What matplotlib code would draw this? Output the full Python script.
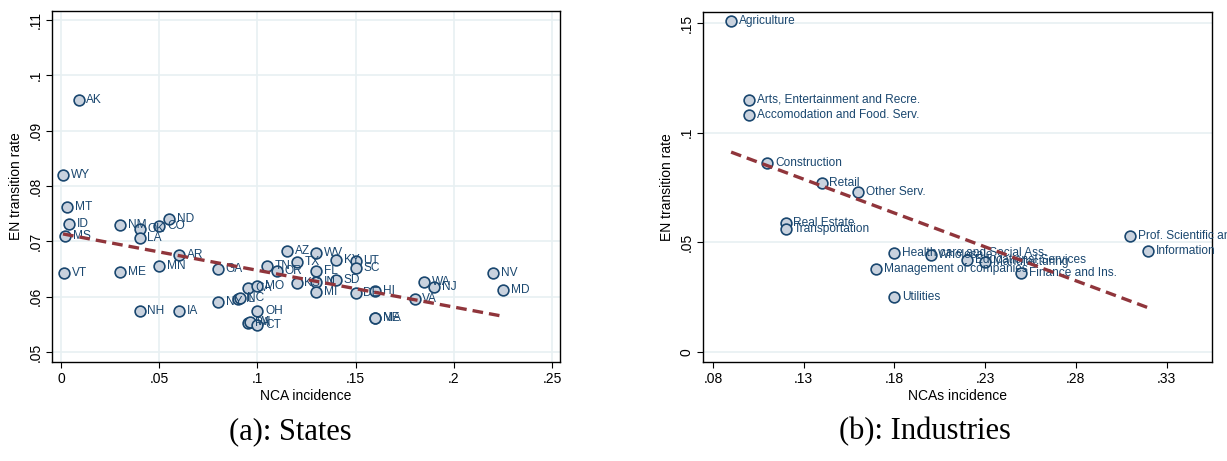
import numpy as np
import matplotlib
matplotlib.use("Agg")
import matplotlib.pyplot as plt
from matplotlib.ticker import FuncFormatter

plt.rcParams['font.family'] = ['Liberation Sans', 'DejaVu Sans']

# (a) states
states = ["AK", "WY", "MT", "ID", "MS", "VT", "NM", "OK", "LA", "CO", "ND", "ME",
          "MN", "AR", "GA", "NH", "IA", "NY", "IL", "NC", "CA", "MO", "OH", "PA",
          "WI", "CT", "AZ", "TN", "OR", "TX", "WV", "KY", "UT", "SC", "FL", "KS",
          "IN", "SD", "MI", "DE", "HI", "NE", "MA", "WA", "NJ", "VA", "NV", "MD"]
nca_states = [0.009, 0.001, 0.003, 0.004, 0.002, 0.0015, 0.030, 0.040, 0.040, 0.050,
              0.055, 0.030, 0.050, 0.060, 0.080, 0.040, 0.060, 0.080, 0.090, 0.091,
              0.095, 0.100, 0.100, 0.095, 0.096, 0.100, 0.115, 0.105, 0.110, 0.120,
              0.130, 0.140, 0.150, 0.150, 0.130, 0.120, 0.130, 0.140, 0.130, 0.150,
              0.160, 0.160, 0.160, 0.185, 0.190, 0.180, 0.220, 0.225]
en_states = [0.0955, 0.0820, 0.0762, 0.0731, 0.0710, 0.0643, 0.0730, 0.0722, 0.0706,
             0.0728, 0.0740, 0.0645, 0.0655, 0.0675, 0.0650, 0.0574, 0.0574, 0.0590,
             0.0595, 0.0597, 0.0615, 0.0620, 0.0575, 0.0553, 0.0555, 0.0549, 0.0682,
             0.0655, 0.0647, 0.0662, 0.0678, 0.0667, 0.0665, 0.0652, 0.0647, 0.0624,
             0.0627, 0.0630, 0.0609, 0.0607, 0.0610, 0.0562, 0.0561, 0.0627, 0.0618,
             0.0595, 0.0643, 0.0612]

# (b) industries
industries = ["Agriculture", "Arts, Entertainment and Recre.", "Accomodation and Food. Serv.",
              "Construction", "Retail", "Other Serv.", "Real Estate", "Transportation",
              "Health care and Social Ass.", "Management of companies", "Utilities",
              "Wholesale", "Educational Services", "Manufacturing", "Finance and Ins.",
              "Prof. Scientific and Technical", "Information"]
nca_ind = [0.09, 0.10, 0.10, 0.11, 0.14, 0.16, 0.12, 0.12, 0.18, 0.17, 0.18,
           0.20, 0.22, 0.23, 0.25, 0.31, 0.32]
en_ind = [0.151, 0.115, 0.108, 0.086, 0.077, 0.073, 0.059, 0.056, 0.045, 0.038, 0.025,
          0.044, 0.042, 0.041, 0.036, 0.053, 0.046]

navy = '#1a476f'
fill = '#c9d2de'
red = '#90353b'
gridc = '#e8f0f2'


def stata_fmt(v, pos):
    s = '%g' % round(v, 6)
    if s.startswith('0.'):
        s = s[1:]
    elif s.startswith('-0.'):
        s = '-' + s[2:]
    return s


def panel(ax, x, y, labels, xticks, yticks, xlab, xgrid):
    x = np.array(x)
    y = np.array(y)
    for t in yticks:
        ax.axhline(t, color=gridc, lw=1.2, zorder=0)
    if xgrid:
        for t in xticks:
            ax.axvline(t, color=gridc, lw=1.2, zorder=0)
    ax.scatter(x, y, s=60, facecolor=fill, edgecolor=navy, linewidth=1.2, zorder=3)
    for xi, yi, lab in zip(x, y, labels):
        ax.annotate(lab, (xi, yi), xytext=(5.5, 0), textcoords='offset points',
                    va='center', ha='left', fontsize=8.6, color=navy, zorder=4,
                    annotation_clip=False)
    b, a = np.polyfit(x, y, 1)
    xx = np.array([x.min(), x.max()])
    ax.plot(xx, a + b * xx, color=red, lw=2.4, ls=(0, (3.2, 1.8)), zorder=5)
    ax.set_xticks(xticks)
    ax.set_yticks(yticks)
    ax.xaxis.set_major_formatter(FuncFormatter(stata_fmt))
    ax.yaxis.set_major_formatter(FuncFormatter(stata_fmt))
    ax.tick_params(axis='both', direction='out', length=4, width=0.8, labelsize=10, pad=3)
    plt.setp(ax.get_yticklabels(), rotation=90, va='center')
    ax.set_xlabel(xlab, fontsize=10, labelpad=2)
    ax.set_ylabel('EN transition rate', fontsize=10, labelpad=4)
    for sp in ax.spines.values():
        sp.set_linewidth(1.0)


fig = plt.figure(figsize=(12.27, 4.61), dpi=100)
ax1 = fig.add_axes([52 / 1227, 1 - 362 / 461, 508 / 1227, 351 / 461])
ax2 = fig.add_axes([703 / 1227, 1 - 362 / 461, 509 / 1227, 350 / 461])

panel(ax1, nca_states, en_states, states, [0, .05, .1, .15, .2, .25],
      [.05, .06, .07, .08, .09, .1, .11], 'NCA incidence', True)
ax1.set_xlim(-0.0046, 0.254)
ax1.set_ylim(0.0482, 0.1116)

panel(ax2, nca_ind, en_ind, industries, [.08, .13, .18, .23, .28, .33],
      [0, .05, .1, .15], 'NCAs incidence', False)
ax2.set_xlim(0.0745, 0.355)
ax2.set_ylim(-0.0046, 0.155)

fig.text(290 / 1227, 1 - 432 / 461, '(a): States', ha='center', va='center',
         fontsize=22, family='Liberation Serif')
fig.text(925 / 1227, 1 - 432 / 461, '(b): Industries', ha='center', va='center',
         fontsize=22, family='Liberation Serif')

fig.savefig('out.png', dpi=100)
